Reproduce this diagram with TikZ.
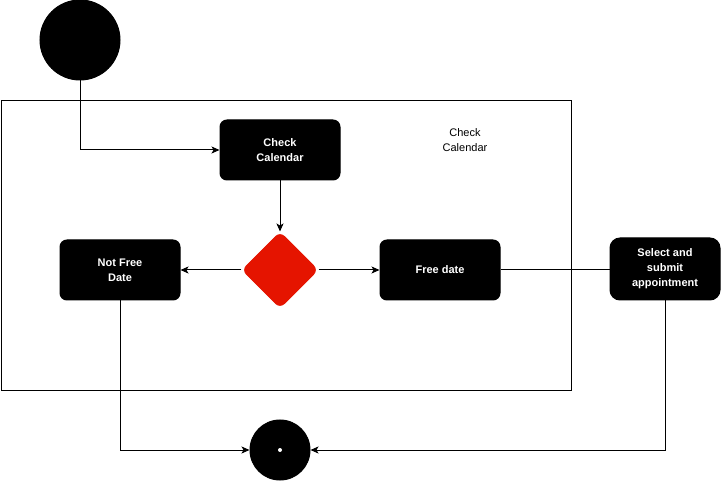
\documentclass[tikz,border=0pt]{standalone}
\usepackage{fontspec}
\setmainfont{Liberation Sans}
\usetikzlibrary{positioning, arrows.meta, shapes.geometric}
\definecolor{decisionred}{HTML}{E51400}

\begin{document}
\begin{tikzpicture}[x=1pt, y=-1pt, >={Stealth[length=8pt,width=7pt,inset=2pt]},
                    line width=1pt,
                    activity/.style={rectangle, rounded corners=7pt, fill=black, draw=black,
                      text=white, align=center, minimum width=120pt, minimum height=60pt,
                      font=\bfseries\fontsize{11}{15}\selectfont},
                    startstate/.style={circle, fill=black, draw=black, minimum size=80pt, inner sep=0pt},
                    endstate/.style={circle, fill=black, draw=black, minimum size=60pt, inner sep=0pt},
                    decision/.style={diamond, aspect=1, fill=decisionred, draw=decisionred,
                      rounded corners=6pt, minimum size=76pt, inner sep=0pt}]

    \useasboundingbox (0,0) rectangle (721,481);

    % swimlane
    \node[draw, minimum width=570pt, minimum height=290pt, anchor=north west, inner sep=0pt] (lane) at (0.5,100) {};
    \node[align=center, font=\fontsize{11}{15}\selectfont] (lanelabel) at (465,140) {Check\\Calendar};

    \node[startstate] (start) at (80,40) {};
    \node[activity] (check) at (280,150) {Check\\Calendar};
    \node[decision] (decide) at (280,270) {};
    \node[activity] (notfree) at (120,270) {Not Free\\Date};
    \node[activity] (free) at (440,270) {Free date};
    \node[activity, minimum width=110pt, minimum height=62pt, rounded corners=10pt] (select) at (665,269) {Select and\\submit\\appointment};
    \node[endstate] (stop) at (280,450) {};
    \fill[white] (stop) circle (2pt);

    \draw[->] (start) |- (check);
    \draw[->] (check) -- (decide);
    \draw[->] (decide) -- (notfree);
    \draw[->] (decide) -- (free);
    \draw (free.east) -- (free.east -| select.west);
    \draw[->] (notfree) |- (stop);
    \draw[->] (select) |- (stop);
\end{tikzpicture}
\end{document}
